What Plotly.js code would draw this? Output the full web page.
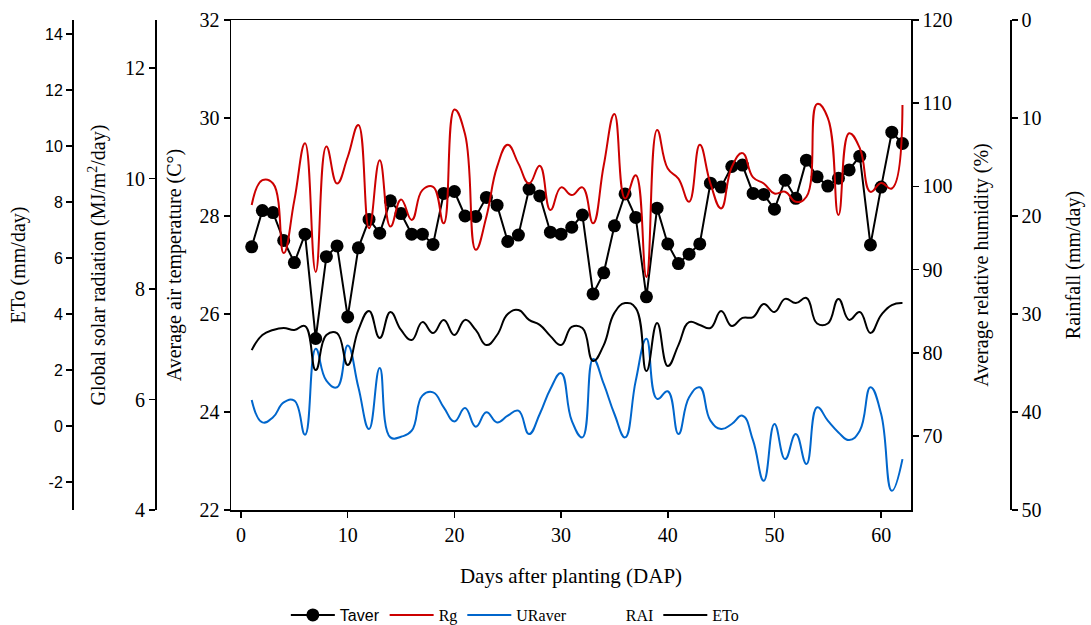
<!DOCTYPE html>
<html>
<head>
<meta charset="utf-8">
<script src="https://cdn.plot.ly/plotly-3.0.1.min.js"></script>
<style>html,body{margin:0;padding:0;background:#fff;}#chart{width:1091px;height:625px;}</style>
</head>
<body>
<div id="chart"></div>
<script>
// Days after planting
const days = [1,2,3,4,5,6,7,8,9,10,11,12,13,14,15,16,17,18,19,20,21,22,23,24,25,26,27,28,29,30,31,32,33,34,35,36,37,38,39,40,41,42,43,44,45,46,47,48,49,50,51,52,53,54,55,56,57,58,59,60,61,62];

// Average air temperature (°C)
const taver = [27.37,28.11,28.07,27.50,27.05,27.63,25.50,27.17,27.39,25.94,27.35,27.93,27.65,28.31,28.05,27.63,27.63,27.42,28.46,28.50,28.00,27.99,28.38,28.22,27.48,27.61,28.55,28.41,27.67,27.63,27.77,28.02,26.41,26.84,27.80,28.45,27.97,26.35,28.16,27.43,27.03,27.22,27.43,28.67,28.59,29.01,29.04,28.46,28.44,28.14,28.73,28.36,29.14,28.80,28.61,28.77,28.94,29.22,27.41,28.59,29.71,29.48];

// Global solar radiation (MJ/m2/day)
const rg = [9.52,9.97,9.91,8.65,9.61,10.64,8.31,10.58,9.91,10.39,10.97,9.10,10.33,9.13,9.62,9.25,9.79,9.85,9.19,11.25,10.80,8.71,9.31,10.21,10.61,10.27,9.91,10.23,9.43,9.84,9.70,9.84,9.19,10.24,11.17,9.64,10.06,8.22,10.88,10.18,10.00,9.58,10.61,9.91,9.46,10.21,10.46,10.02,9.91,9.73,9.76,9.58,9.67,11.35,11.10,9.34,10.82,10.55,9.76,9.92,9.82,11.33];

// Average relative humidity (%)
const uraver = [74.33,71.63,72.24,74.04,74.24,70.15,80.47,76.65,75.85,80.87,75.85,70.83,78.18,69.83,69.91,70.63,74.85,75.24,73.44,71.75,73.36,71.11,72.84,71.63,72.44,73.04,70.23,72.64,75.65,77.55,71.84,69.83,79.26,76.25,72.64,69.83,76.65,81.67,74.45,75.37,70.23,74.65,75.85,71.84,70.83,71.44,72.44,69.43,64.61,71.44,67.22,70.23,66.62,73.44,71.84,70.43,69.51,70.63,75.85,72.64,63.41,67.22];

// Rainfall (mm/day) - no rain drawn in the figure
const rai = [0,0,0,0,0,0,0,0,0,0,0,0,0,0,0,0,0,0,0,0,0,0,0,0,0,0,0,0,0,0,0,0,0,0,0,0,0,0,0,0,0,0,0,0,0,0,0,0,0,0,0,0,0,0,0,0,0,0,0,0,0,0];

// Reference evapotranspiration (mm/day)
const eto = [2.71,3.25,3.43,3.50,3.43,3.57,2.00,3.25,3.32,2.18,3.43,4.11,3.14,4.07,3.43,3.07,3.71,3.32,3.79,3.25,3.79,3.43,2.89,3.25,4.00,4.14,3.79,3.61,3.21,2.89,3.54,3.50,2.32,2.89,4.04,4.39,4.21,1.96,3.68,2.14,2.89,3.71,3.61,3.50,4.11,3.57,3.86,3.89,4.36,4.07,4.54,4.39,4.57,3.66,3.66,4.54,3.79,4.07,3.32,3.96,4.32,4.39];

// Tick labels
const xTickVals = [0,10,20,30,40,50,60];
const etoTickVals = [-2,0,2,4,6,8,10,12,14];
const etoTickText = ['-2','0','2','4','6','8','10','12','14'];

const SERIF = 'Liberation Serif';
const SANS = 'Liberation Sans';

const traces = [
  {x: days, y: taver, name: '<span style="font-family:Liberation Sans">Taver</span>', type: 'scatter', mode: 'lines+markers',
   line: {color: '#000', width: 2}, marker: {color: '#000', size: 13}, yaxis: 'y'},
  {x: days, y: rg, name: 'Rg', type: 'scatter', mode: 'lines',
   line: {color: '#CC0000', width: 2, shape: 'spline', smoothing: 1.3}, yaxis: 'y3'},
  {x: days, y: uraver, name: 'URaver', type: 'scatter', mode: 'lines',
   line: {color: '#0066CC', width: 2, shape: 'spline', smoothing: 1.3}, yaxis: 'y2'},
  {x: days, y: rai, name: 'RAI', type: 'bar',
   marker: {color: 'rgba(0,0,0,0)', line: {width: 0}}, yaxis: 'y5'},
  {x: days, y: eto, name: 'ETo', type: 'scatter', mode: 'lines',
   line: {color: '#000', width: 2, shape: 'spline', smoothing: 1.3}, yaxis: 'y4'}
];

const axisBase = {
  showgrid: false, zeroline: false, showline: true, linecolor: '#000', linewidth: 1.5,
  ticks: 'outside', ticklen: 6, tickwidth: 1.5, tickcolor: '#000',
  tickfont: {family: SERIF, size: 20, color: '#000'}
};

const layout = {
  width: 1091, height: 625,
  margin: {l: 0, r: 0, t: 0, b: 0, autoexpand: false},
  paper_bgcolor: '#fff', plot_bgcolor: '#fff',
  font: {family: SERIF, color: '#000'},
  showlegend: true,
  legend: {orientation: 'h', x: 0.262, xanchor: 'left', y: 0.016, yanchor: 'middle',
           font: {family: SERIF, size: 16, color: '#000'}, traceorder: 'normal', itemwidth: 44},
  xaxis: Object.assign({}, axisBase, {
    domain: [231/1091, 911/1091], range: [-0.94, 62.8], tickvals: xTickVals, mirror: true,
    title: {text: 'Days after planting (DAP)', font: {family: SERIF, size: 21, color: '#000'}, standoff: 24}
  }),
  yaxis: Object.assign({}, axisBase, {
    domain: [115/625, 605/625], range: [22, 32], dtick: 2, mirror: true,
    title: {text: 'Average air temperature (C°)', font: {family: SERIF, size: 20, color: '#000'}, standoff: 12}
  }),
  yaxis2: Object.assign({}, axisBase, {
    overlaying: 'y', side: 'right', anchor: 'x', range: [61.1, 120], dtick: 10,
    title: {text: 'Average relative humidity (%)', font: {family: SERIF, size: 20, color: '#000'}, standoff: 22}
  }),
  yaxis3: Object.assign({}, axisBase, {
    overlaying: 'y', side: 'left', anchor: 'free', position: 155/1091, range: [4, 12.87], dtick: 2,
    title: {text: 'Global solar radiation (MJ/m<sup>2</sup>/day)', font: {family: SERIF, size: 20, color: '#000'}, standoff: 12}
  }),
  yaxis4: Object.assign({}, axisBase, {
    overlaying: 'y', side: 'left', anchor: 'free', position: 72/1091, range: [-3, 14.5],
    tickvals: etoTickVals, ticktext: etoTickText,
    tickfont: {family: SANS, size: 16, color: '#000'},
    title: {text: 'ETo (mm/day)', font: {family: SERIF, size: 20, color: '#000'}, standoff: 12}
  }),
  yaxis5: Object.assign({}, axisBase, {
    overlaying: 'y', side: 'right', anchor: 'free', position: 1010/1091, range: [50, 0], dtick: 10,
    title: {text: 'Rainfall (mm/day)', font: {family: SERIF, size: 20, color: '#000'}, standoff: 25}
  })
};

Plotly.newPlot('chart', traces, layout, {displayModeBar: false, staticPlot: true});
</script>
</body>
</html>
